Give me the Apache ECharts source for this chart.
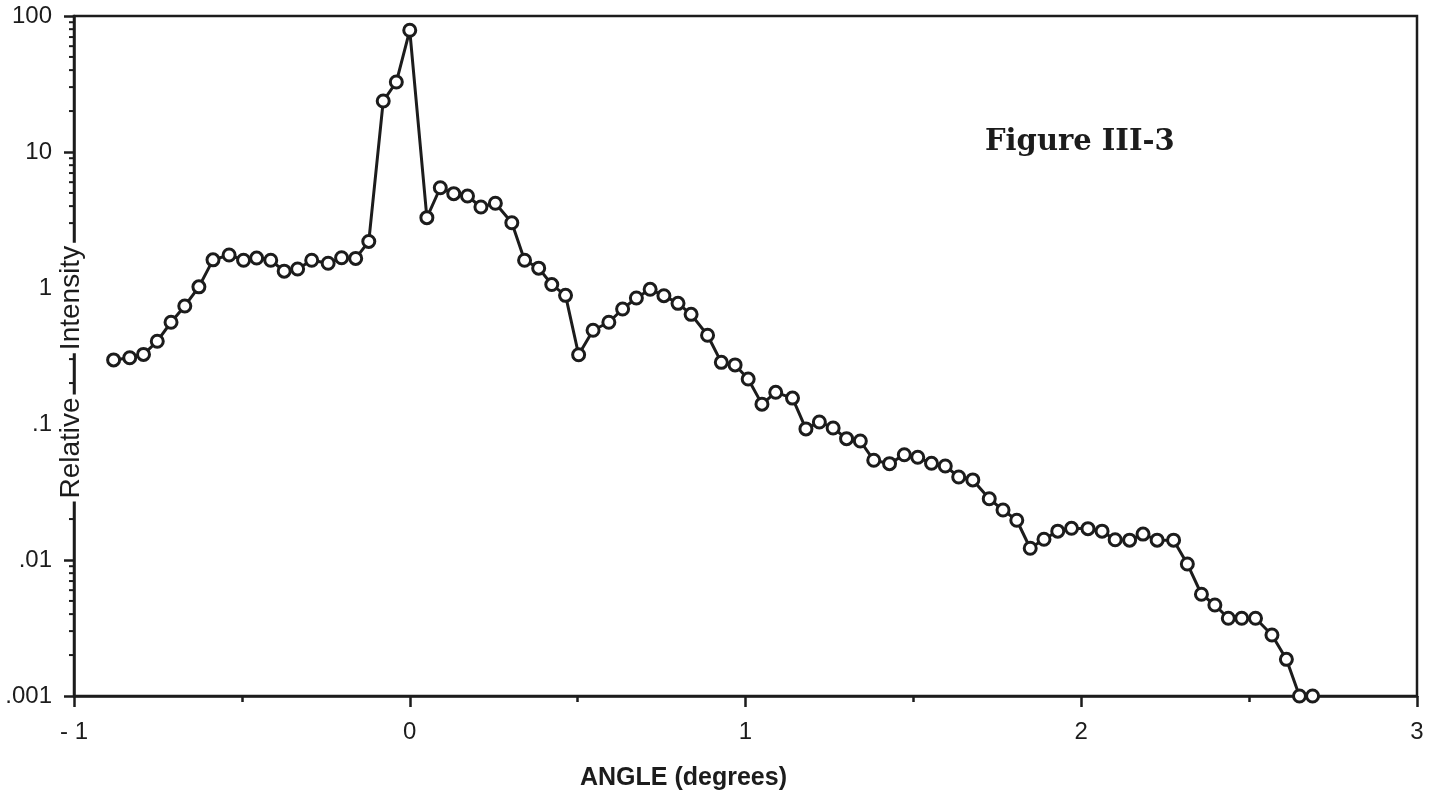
<!DOCTYPE html>
<html>
<head>
<meta charset="utf-8">
<script src="https://cdn.jsdelivr.net/npm/echarts@6/dist/echarts.min.js"></script>
<style>
html,body{margin:0;padding:0;background:#fff;}
#chart{width:1439px;height:801px;}
</style>
</head>
<body>
<div id="chart"></div>
<script>
// Angle (degrees) of each measured point
const angles = [
  -0.882, -0.834, -0.793, -0.752, -0.711, -0.670, -0.628, -0.586, -0.538, -0.495,
  -0.456, -0.414, -0.374, -0.334, -0.292, -0.243, -0.203, -0.161, -0.122, -0.079,
  -0.040, 0.000, 0.051, 0.091, 0.131, 0.172, 0.212, 0.255, 0.304, 0.342,
  0.384, 0.423, 0.464, 0.503, 0.546, 0.593, 0.634, 0.675, 0.716, 0.757,
  0.799, 0.838, 0.887, 0.928, 0.969, 1.008, 1.049, 1.090, 1.140, 1.180,
  1.220, 1.261, 1.301, 1.342, 1.382, 1.429, 1.473, 1.513, 1.554, 1.595,
  1.635, 1.677, 1.726, 1.767, 1.808, 1.848, 1.889, 1.930, 1.971, 2.020,
  2.062, 2.101, 2.144, 2.184, 2.226, 2.275, 2.316, 2.358, 2.398, 2.438,
  2.478, 2.519, 2.568, 2.611, 2.650, 2.689
];
// Relative intensity of each point
const intensity = [
  0.296, 0.307, 0.325, 0.406, 0.560, 0.738, 1.02, 1.61, 1.75, 1.60,
  1.66, 1.60, 1.33, 1.38, 1.60, 1.52, 1.67, 1.65, 2.20, 23.7,
  32.7, 78.5, 3.29, 5.46, 4.94, 4.75, 3.94, 4.20, 3.02, 1.60,
  1.40, 1.06, 0.883, 0.323, 0.489, 0.560, 0.701, 0.844, 0.978, 0.878,
  0.771, 0.640, 0.449, 0.284, 0.272, 0.214, 0.140, 0.171, 0.155, 0.092,
  0.1035, 0.0935, 0.078, 0.075, 0.0541, 0.0511, 0.0594, 0.0569, 0.0514, 0.0491,
  0.0408, 0.0388, 0.0282, 0.0233, 0.0196, 0.0122, 0.0142, 0.0163, 0.0171, 0.0170,
  0.0163, 0.0141, 0.0140, 0.0155, 0.0140, 0.0140, 0.00935, 0.0056, 0.00467, 0.00373,
  0.00373, 0.00373, 0.00281, 0.00186, 0.001, 0.001
];
// Y tick labels, from 10^-3 to 10^2
const yTickLabels = ['.001', '.01', '.1', '1', '10', '100'];
// X tick labels for -1..3
const xTickLabels = ['- 1', '0', '1', '2', '3'];
// Minor tick multipliers within each decade
const minorMultipliers = [2, 3, 4, 5, 6, 7, 8, 9];
const decades = [0.001, 0.01, 0.1, 1, 10];

const minorTickValues = [];
decades.forEach(d => minorMultipliers.forEach(m => minorTickValues.push([-1, d * m])));

const ink = '#1c1c1c';
const sans = '"Liberation Sans", Arial, sans-serif';
const chart = echarts.init(document.getElementById('chart'));

chart.setOption({
  backgroundColor: '#fff',
  animation: false,
  grid: {
    left: 74, right: 22, top: 16, bottom: 105,
    show: true, borderColor: ink, borderWidth: 2.5, backgroundColor: 'transparent'
  },
  xAxis: {
    type: 'value', min: -1, max: 3, interval: 1,
    axisLine: { show: true, onZero: false, lineStyle: { color: ink, width: 2.5 } },
    axisTick: { show: true, length: 11, lineStyle: { color: ink, width: 2.5 } },
    minorTick: { show: true, splitNumber: 2, length: 6, lineStyle: { color: ink, width: 2.5 } },
    splitLine: { show: false },
    axisLabel: {
      margin: 24, color: ink, fontFamily: sans, fontSize: 24,
      formatter: v => xTickLabels[Math.round(v) + 1]
    },
    name: 'ANGLE (degrees)',
    nameLocation: 'middle', nameGap: 70,
    nameTextStyle: {
      color: ink, fontFamily: sans, fontSize: 25, fontWeight: 'bold',
      padding: [0, 124, 0, 0]
    }
  },
  yAxis: {
    type: 'log', logBase: 10, min: 0.001, max: 100,
    axisLine: { show: true, onZero: false, lineStyle: { color: ink, width: 2.5 } },
    axisTick: { show: true, length: 10, lineStyle: { color: ink, width: 2.5 } },
    splitLine: { show: false },
    axisLabel: {
      margin: 22, color: ink, fontFamily: sans, fontSize: 24,
      formatter: v => yTickLabels[Math.round(Math.log10(v)) + 3]
    }
  },
  graphic: [
    {
      type: 'text', x: 71, y: 298, rotation: Math.PI / 2, z: 100,
      style: {
        text: 'Intensity', fill: ink, backgroundColor: '#fff', padding: [0, 3],
        font: '28px "Liberation Sans", Arial, sans-serif',
        textAlign: 'center', textVerticalAlign: 'middle'
      }
    },
    {
      type: 'text', x: 71, y: 448, rotation: Math.PI / 2, z: 100,
      style: {
        text: 'Relative', fill: ink, backgroundColor: '#fff', padding: [0, 3],
        font: '28px "Liberation Sans", Arial, sans-serif',
        textAlign: 'center', textVerticalAlign: 'middle'
      }
    },
    {
      type: 'text', x: 985, y: 142, z: 100,
      style: {
        text: 'Figure III-3', fill: ink,
        font: 'bold 29px "DejaVu Serif", "Liberation Serif", serif',
        textAlign: 'left', textVerticalAlign: 'middle'
      }
    }
  ],
  series: [
    {
      type: 'custom',
      silent: true,
      clip: false,
      z: 3,
      data: minorTickValues,
      encode: { x: 0, y: 1 },
      renderItem: (params, api) => {
        const p = api.coord([api.value(0), api.value(1)]);
        return {
          type: 'line',
          shape: { x1: p[0] - 5, y1: p[1], x2: p[0], y2: p[1] },
          style: { stroke: ink, lineWidth: 2 }
        };
      }
    },
    {
      type: 'line',
      data: angles.map((a, i) => [a, intensity[i]]),
      symbol: 'circle',
      symbolSize: 12,
      showSymbol: true,
      clip: false,
      z: 5,
      lineStyle: { color: ink, width: 3 },
      itemStyle: { color: '#fff', borderColor: ink, borderWidth: 3 }
    }
  ]
});
</script>
</body>
</html>
